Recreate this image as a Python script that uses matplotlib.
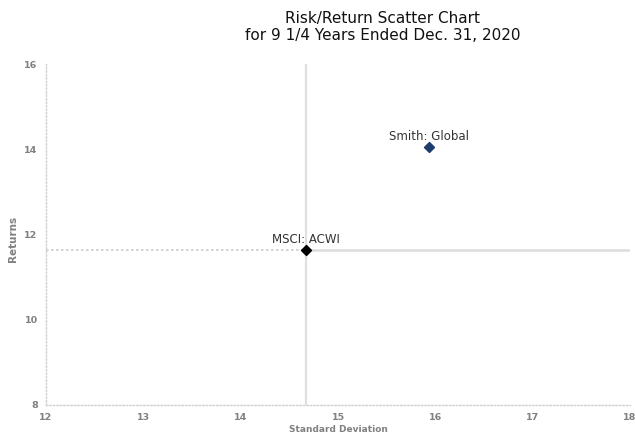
import matplotlib
matplotlib.use("Agg")
import matplotlib.pyplot as plt

# data
names = ["Smith: Global", "MSCI: ACWI"]
std_dev = [15.94, 14.67]
returns = [14.06, 11.64]
colors = ["#1f3d6b", "#000000"]

bench_x = std_dev[1]
bench_y = returns[1]

x_ticks = [12, 13, 14, 15, 16, 17, 18]
y_ticks = [8, 10, 12, 14, 16]

fig = plt.figure(figsize=(6.35, 4.34), dpi=100)
ax = fig.add_axes([46 / 635, 29 / 434, 584 / 635, 341 / 434])
ax.set_xlim(12, 18)
ax.set_ylim(8, 16)

# benchmark cross lines
ax.plot([12, bench_x], [bench_y, bench_y], color="#cccccc", lw=1.2, ls=(0, (1.5, 1.5)), zorder=1)
ax.plot([bench_x, 18], [bench_y, bench_y], color="#dcdcdc", lw=1.8, zorder=1)
ax.plot([bench_x, bench_x], [8, 16], color="#e0e0e0", lw=1.6, zorder=1)

for name, x, y, c in zip(names, std_dev, returns, colors):
    ax.scatter(x, y, marker="D", s=26, color=c, zorder=3)
    ax.annotate(name, (x, y), xytext=(0, 7.5), textcoords="offset points",
                ha="center", va="center", fontsize=8.5, color="#333333")

for side in ["top", "right"]:
    ax.spines[side].set_visible(False)
for side in ["left", "bottom"]:
    ax.spines[side].set_color("#d0d0d0")
    ax.spines[side].set_linestyle((0, (1, 1.5)))
    ax.spines[side].set_linewidth(1.0)

ax.set_xticks(x_ticks)
ax.set_yticks(y_ticks)
ax.tick_params(length=0, labelsize=6.8, labelcolor="#808080", pad=6)
for lbl in ax.get_xticklabels() + ax.get_yticklabels():
    lbl.set_fontweight("bold")
ax.set_xlabel("Standard Deviation", fontsize=6.5, color="#808080", fontweight="bold", labelpad=2)
ax.set_ylabel("Returns", fontsize=7.5, color="#808080", fontweight="bold")
ax.yaxis.set_label_coords(-0.048, 0.487)

fig.text(383 / 635, 1 - 18 / 434, "Risk/Return Scatter Chart", ha="center", va="center",
         fontsize=11, color="#111111")
fig.text(383 / 635, 1 - 35 / 434, "for 9 1/4 Years Ended Dec. 31, 2020", ha="center", va="center",
         fontsize=11, color="#111111")

fig.savefig("out.png", dpi=100)
